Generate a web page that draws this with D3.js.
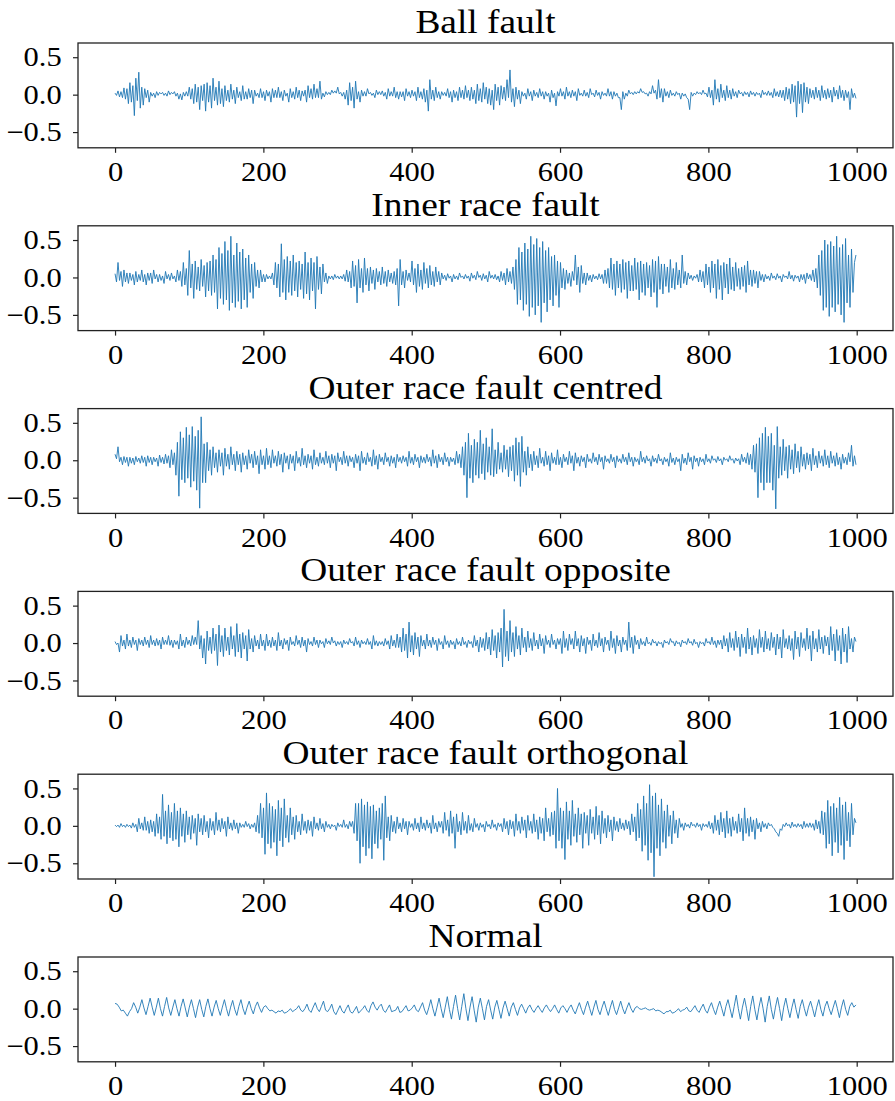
<!DOCTYPE html>
<html>
<head>
<meta charset="utf-8">
<script src="https://cdn.jsdelivr.net/npm/d3@7"></script>
<style>
  body { margin: 0; background: #fff; }
  text { font-family: "Liberation Serif", "Times New Roman", serif; fill: #000; }
</style>
</head>
<body>
<div id="chart"></div>
<script>
// panel titles, top to bottom
var titles = ["Ball fault", "Inner race fault", "Outer race fault centred",
  "Outer race fault opposite", "Outer race fault orthogonal", "Normal"];

var xTicks = [0, 200, 400, 600, 800, 1000];
var yTicks = [-0.5, 0, 0.5];
var yTickLabels = ["\u22120.5", "0.0", "0.5"];
var sampleCount = 1000;

// signals, amplitude in hundredths,
// evenly spread over samples 0..999 (one line = 40 samples)
var ballFault = [
  2,-1,5,-3,4,-4,9,-6,8,-12,16,-10,12,-28,22,-8,30,-18,10,-14,
  8,-4,6,-10,3,-2,2,-4,4,-1,3,1,3,-1,2,-2,5,0,3,1,
  4,-2,2,-6,1,-7,3,-2,4,-2,10,-6,8,-12,14,-10,10,-20,12,-8,
  14,-22,16,-10,12,-18,22,-8,10,-14,18,-12,8,-16,12,-8,6,-10,14,-6,
  6,-12,10,-4,4,-8,12,-6,4,-6,8,-4,6,-12,6,-2,2,-4,8,-4,
  4,-8,6,-2,4,-10,8,-4,6,-4,10,-4,4,-8,6,-2,2,-10,8,-4,
  4,-6,10,-4,6,-8,5,-2,6,-10,12,-4,8,-6,14,-4,8,-4,18,-6,
  2,-3,4,0,3,0,6,2,5,2,10,1,3,-2,3,-6,6,-14,16,-8,
  10,-18,18,-6,4,-10,6,-2,4,-2,8,1,3,-1,2,-4,6,0,4,0,
  5,-2,3,-6,8,-2,4,-2,10,-4,4,-6,4,-3,4,-8,8,-2,4,-4,
  6,-2,4,-8,10,-4,4,-6,8,-10,6,-22,20,-6,6,-8,10,-4,4,-6,
  4,-1,3,-2,8,-4,4,-10,6,-4,4,-8,10,-4,6,-6,12,-4,6,-8,
  10,-6,6,-12,14,-8,8,-10,16,-6,10,-12,8,-14,6,-20,14,-8,10,-14,
  12,-6,10,-8,20,-4,33,-10,8,-16,10,-6,6,-12,4,-2,2,-6,8,-2,
  4,-8,6,-2,3,-4,8,-2,4,-6,4,-2,2,-10,6,-4,2,-15,4,-2,
  8,-2,4,-6,10,-2,4,-4,6,-2,4,-8,8,-1,2,-2,6,-2,3,-4,
  8,0,2,-3,6,-1,3,-6,4,-1,2,-2,8,-2,4,-6,4,-2,2,-4,
  -4,-20,4,-6,2,-2,6,1,3,0,4,1,4,2,8,3,4,1,2,-2,
  4,1,12,2,6,-6,20,-4,8,-10,8,-2,4,-4,6,-1,2,-2,4,0,
  2,-6,2,-2,1,-4,-6,-20,3,-2,2,0,4,1,3,0,6,1,2,-3,
  10,-4,6,-14,20,-6,8,-10,14,-4,6,-8,12,-4,6,-6,8,-2,4,-4,
  6,1,3,-2,4,0,3,-3,5,0,3,-2,3,0,2,-4,6,0,3,-1,
  5,-1,3,-4,8,-2,4,-3,6,-4,6,-8,10,-6,8,-12,14,-10,12,-30,
  18,-12,14,-24,16,-10,10,-12,8,-4,6,-6,10,-4,6,-8,12,-4,6,-6,
  8,-4,6,-10,10,-2,6,-6,12,-4,6,-8,6,-4,4,-20,8,-4,2,-5
];

var innerRace = [
  5,-6,20,-4,8,-12,10,-6,6,-8,6,-4,4,-10,8,-6,4,-4,10,-6,
  4,-10,6,-4,6,-8,10,-2,4,-6,4,-4,2,-8,8,-2,4,-4,6,-2,
  2,-6,10,-4,8,-12,20,-10,12,-24,36,-14,18,-28,22,-16,14,-18,24,-12,
  16,-26,20,-18,22,-24,30,-20,24,-42,40,-28,32,-36,48,-30,36,-44,55,-34,
  30,-40,46,-32,34,-42,38,-30,26,-40,30,-20,18,-28,20,-12,10,-14,10,-6,
  4,-6,4,-2,2,-2,6,-10,20,-14,18,-26,45,-20,24,-30,28,-20,22,-24,
  30,-18,20,-26,22,-16,18,-28,34,-22,20,-30,26,-18,20,-42,28,-16,14,-22,
  18,-6,6,-8,2,-2,2,-3,4,-1,2,-2,2,-2,4,-5,10,-6,8,-14,
  22,-12,16,-34,24,-14,12,-20,26,-10,12,-18,14,-8,10,-16,12,-6,8,-10,
  14,-8,8,-12,10,-6,6,-8,8,-10,12,-38,24,-10,8,-14,10,-4,6,-6,
  22,-10,12,-20,18,-12,10,-16,20,-8,12,-14,16,-10,8,-12,14,-6,8,-10,
  6,-2,3,-4,5,-1,2,-6,4,-2,2,-3,6,0,2,-2,4,-1,2,-5,
  6,-1,3,-3,8,0,3,-4,5,-2,3,-6,8,-1,3,-2,4,-3,2,-6,
  8,-4,6,-10,12,-6,8,-8,14,-16,24,-36,40,-30,34,-44,46,-36,38,-52,
  55,-40,44,-50,52,-38,40,-60,48,-34,36,-46,40,-30,28,-38,30,-24,22,-40,
  20,-14,12,-16,10,-8,6,-12,8,-4,30,-10,14,-20,16,-8,6,-10,6,-4,
  3,-6,4,-2,2,-3,5,-2,4,-8,10,-8,12,-14,26,-16,18,-24,22,-14,
  18,-20,24,-16,20,-28,22,-18,16,-18,26,-16,20,-30,22,-20,18,-24,20,-14,
  16,-26,24,-20,22,-40,28,-16,18,-22,18,-12,14,-20,24,-14,12,-16,20,-10,
  10,-14,30,-8,8,-10,6,-2,3,-4,2,-1,4,-6,10,-6,8,-14,18,-10,
  14,-20,22,-14,18,-28,24,-16,16,-30,20,-14,18,-22,26,-16,14,-18,20,-12,
  12,-16,14,-12,16,-20,22,-10,10,-12,10,-8,8,-14,8,-4,4,-6,4,-2,
  2,-4,6,-1,2,-3,5,-1,2,-6,4,0,2,-2,8,-2,3,-5,3,-1,
  2,-6,4,-3,4,-8,6,-2,4,-4,10,-6,12,-14,30,-24,36,-44,50,-40,
  44,-52,48,-40,42,-46,55,-36,40,-50,44,-60,52,-34,30,-40,38,-20,20,30
];

var outerCentred = [
  8,2,18,-2,4,-6,5,-3,4,-8,4,-4,3,-6,5,-2,3,-4,6,-3,
  4,-8,6,-3,4,-6,4,-2,3,-8,7,-3,4,-5,8,-4,6,-10,14,-6,
  10,-20,24,-48,38,-26,30,-30,44,-24,34,-36,45,-28,32,-40,40,-64,58,-30,
  22,-30,24,-14,14,-20,18,-10,10,-16,14,-8,10,-20,16,-8,8,-12,18,-6,
  8,-14,12,-6,8,-16,10,-6,6,-12,14,-4,8,-10,12,-6,6,-18,14,-6,
  6,-12,16,-6,6,-10,14,-4,6,-8,12,-6,8,-16,10,-4,6,-12,8,-4,
  6,-14,12,-4,4,-8,16,-6,6,-10,8,-4,6,-12,14,-6,4,-8,10,-4,
  4,-6,12,-4,6,-10,8,-4,6,-14,10,-2,4,-6,12,-4,6,-8,6,-2,
  4,-10,8,-4,6,-14,12,-4,4,-6,10,-2,4,-8,14,-6,6,-12,8,-2,
  4,-6,10,-2,4,-8,6,-4,4,-10,8,-2,4,-4,6,-2,4,-8,12,-4,
  4,-6,8,-2,4,-10,6,-3,4,-4,8,-2,4,-8,14,-4,6,-10,8,-2,
  4,-6,10,-2,4,-8,4,-2,3,-6,12,-4,8,-10,18,-20,24,-50,36,-24,
  20,-30,28,-20,24,-24,40,-18,22,-26,30,-16,18,-20,42,-22,14,-18,24,-12,
  10,-16,20,-12,14,-22,18,-14,20,-28,30,-20,24,-35,32,-16,12,-20,18,-10,
  8,-14,12,-6,6,-10,16,-4,4,-8,12,-6,6,-14,10,-4,4,-6,14,-6,
  4,-10,8,-2,4,-6,12,-4,6,-14,10,-4,4,-8,6,-2,4,-10,8,-2,
  2,-4,10,-2,4,-6,8,-2,4,-12,6,-2,2,-4,8,-2,4,-10,6,-2,
  2,-4,8,-2,4,-6,10,-2,4,-8,4,-2,2,-6,12,-2,4,-4,6,-1,
  2,-8,6,-2,3,-4,8,-1,2,-6,4,-2,2,-8,10,-3,3,-6,4,-2,
  2,-14,8,-4,3,-6,10,-2,4,-12,6,-2,3,-8,4,-2,2,-6,8,-2,
  2,-4,6,0,2,-3,5,-1,2,-6,4,0,2,-2,6,0,2,-4,3,-1,
  2,-6,8,-2,4,-4,10,-6,8,-12,20,-16,22,-50,30,-30,36,-40,44,-30,
  32,-30,36,-40,20,-65,45,-24,18,-20,28,-14,18,-24,20,-12,14,-18,22,-10,
  12,-16,18,-8,8,-12,10,-6,8,-14,16,-6,6,-10,12,-4,6,-8,14,-6,
  6,-10,12,-4,6,-8,10,-6,4,-12,8,-4,4,-6,10,-2,20,-8,6,-6
];

var outerOpposite = [
  2,-2,0,-12,10,-4,4,-8,12,-4,4,-6,8,-2,4,-10,6,-2,4,-4,
  8,-2,4,-6,10,-2,4,-4,6,-3,4,-8,8,-2,4,-2,10,-3,4,-6,
  4,-2,3,-8,12,-4,4,-6,8,-2,4,-4,10,-2,8,-2,30,-8,10,-20,
  6,-28,16,-10,8,-14,20,-10,12,-30,24,-12,10,-18,20,-10,8,-16,22,-8,
  10,-18,26,-12,12,-20,14,-8,10,-24,18,-8,6,-12,10,-4,4,-8,12,-4,
  4,-10,12,-4,4,-6,8,-4,4,-10,14,-4,4,-8,6,-2,4,-10,8,-2,
  2,-4,10,-2,4,-6,8,-4,4,-12,6,-2,2,-4,8,-2,4,-6,4,-1,
  2,-6,6,-1,3,-2,8,0,3,-4,2,-2,2,-6,4,-1,2,-2,6,0,
  2,-4,8,-2,3,-6,4,-1,2,-2,6,-2,2,-8,10,-3,3,-4,2,-2,
  2,-4,6,-2,3,-8,10,-4,4,-6,12,-6,8,-12,20,-10,12,-20,28,-12,
  10,-16,14,-8,8,-18,10,-4,4,-8,12,-4,4,-6,8,-2,4,-10,6,-2,
  2,-8,10,-2,3,-6,4,-2,2,-8,6,-2,2,-4,8,-2,2,-6,4,-1,
  2,-6,10,-4,4,-12,8,-6,6,-10,14,-8,8,-16,18,-10,10,-20,14,-12,
  20,-32,45,-18,16,-24,30,-12,14,-18,22,-8,10,-16,20,-6,8,-12,16,-6,
  6,-10,14,-4,4,-8,12,-4,6,-14,10,-2,4,-6,12,-2,4,-8,6,-2,
  6,-14,16,-6,6,-10,12,-2,6,-8,16,-4,6,-12,10,-4,6,-14,8,-2,
  4,-10,12,-4,4,-6,14,-4,6,-12,8,-2,4,-10,16,-6,6,-14,10,-4,
  4,-12,8,-2,4,-10,28,-6,8,-14,10,-2,4,-8,6,-2,2,-4,8,-1,
  1,-3,5,0,2,-4,2,-1,1,-6,4,0,2,-2,6,1,2,-4,3,-1,
  1,-5,4,0,2,-2,6,0,2,-3,5,-1,1,-6,2,-1,1,-4,6,0,
  2,-2,8,-2,3,-6,4,-2,4,-8,10,-4,6,-12,14,-6,6,-10,16,-6,
  8,-18,12,-6,8,-14,20,-8,8,-16,10,-6,6,-14,18,-6,8,-12,16,-8,
  6,-10,14,-6,8,-16,12,-8,8,-20,18,-6,6,-8,10,-10,6,-22,16,-8,
  8,-18,14,-6,6,-10,20,-8,10,-24,16,-8,6,-12,18,-8,8,-14,10,-4,
  8,-16,22,-10,12,-24,18,-10,10,-28,20,-12,12,-26,22,-8,6,-12,8,2
];

var outerOrthogonal = [
  1,-1,1,-2,3,-1,1,-2,2,-1,1,-3,4,-2,2,-8,10,-4,4,-6,
  12,-6,6,-10,8,-8,6,-14,16,-10,12,-18,42,-14,20,-24,28,-16,18,-20,
  30,-18,20,-28,24,-14,16,-22,20,-12,12,-18,14,-10,10,-26,16,-8,10,-12,
  14,-8,6,-16,10,-6,6,-12,18,-6,8,-8,10,-4,6,-14,12,-4,4,-6,
  8,-4,4,-10,4,-2,2,-2,6,-1,3,-4,2,-2,4,-8,14,-10,30,-16,
  24,-38,44,-24,30,-30,26,-22,22,-40,34,-20,24,-28,36,-16,14,-22,24,-12,
  12,-18,14,-8,6,-12,16,-6,6,-10,8,-6,6,-14,12,-4,4,-6,10,-4,
  3,-8,6,-2,2,-4,2,-1,1,-6,4,-1,2,-2,8,-2,2,-4,6,-1,
  6,-10,30,-20,30,-50,36,-28,28,-40,32,-30,26,-44,28,-24,20,-30,24,-18,
  30,-46,40,-16,12,-20,14,-8,6,-10,12,-4,4,-8,10,-4,6,-12,6,-2,
  3,-6,10,-4,4,-8,12,-4,4,-6,8,-3,4,-10,14,-4,4,-8,6,-2,
  6,-10,18,-6,8,-14,20,-10,12,-30,16,-8,6,-12,18,-6,6,-10,14,-6,
  3,-8,10,-2,3,-6,4,-2,2,-8,6,-1,2,-4,8,-2,2,-6,4,-1,
  3,-8,10,-4,6,-12,8,-4,6,-14,16,-6,6,-10,12,-6,8,-16,14,-6,
  6,-10,16,-8,8,-18,12,-10,10,-20,24,-8,10,-14,18,-12,20,-30,50,-20,
  24,-30,20,-45,32,-18,20,-26,34,-14,16,-22,24,-12,16,-30,18,-10,14,-26,
  22,-10,12,-18,26,-12,14,-24,20,-10,10,-16,14,-8,8,-20,12,-6,6,-8,
  10,-4,4,-6,8,-4,6,-12,16,-8,12,-20,30,-16,22,-34,40,-26,30,-46,
  55,-36,40,-68,44,-30,28,-40,36,-22,20,-30,28,-14,14,-24,20,-10,8,-16,
  10,-2,3,-6,4,-1,2,-3,5,0,2,-2,4,-1,2,-6,3,-1,2,-2,
  6,-4,4,-10,14,-6,8,-12,18,-8,10,-16,20,-10,10,-14,12,-6,6,-10,
  16,-8,10,-20,24,-10,10,-14,12,-8,8,-18,10,-4,4,-8,6,-2,3,-4,
  4,0,2,-2,-4,-8,-10,-14,-4,-6,2,-1,4,0,2,-3,5,-1,2,-2,
  3,-1,2,-4,6,-2,3,-2,4,-2,3,-6,8,-4,6,-10,20,-12,18,-30,
  34,-24,26,-40,30,-22,24,-36,38,-26,28,-45,32,-20,18,-28,30,-12,10,4
];

var normal = [
  7,6,2,-3, -2,-6,-10,-4, 0,8,2,-6, 2,12,1,-8, 3,14,2,-9,
  2,14,0,-10, 3,15,1,-9, 2,12,0,-10, 3,13,1,-11, 2,12,0,-12,
  2,12,-1,-11, 3,13,0,-10, 2,11,0,-9, 2,12,0,-10, 2,11,-1,-9,
  3,12,0,-8, 2,10,0,-7, 3,9,1,-5, 2,4,0,-3, -2,-4,-6,-3,
  -4,-2,-6,-5, -3,0,-4,-2, 0,4,-2,-4, 0,6,-2,-5, 2,8,0,-4,
  3,10,-2,-4, 0,6,-4,-8, -2,4,-3,-6, 0,5,-4,-6, -2,3,-6,-3,
  0,4,-2,-5, 4,9,2,-2, 3,6,-2,-5, 0,5,-4,-3, -2,3,-5,-4,
  0,4,-3,-2, 1,5,-2,-4, 2,8,-2,-8, 1,12,0,-10, 2,14,0,-12,
  2,16,-1,-14, 3,18,0,-15, 3,20,0,-16, 2,16,-2,-18, 2,14,0,-15,
  3,12,-2,-14, 2,11,-1,-13, 1,10,0,-10, 2,8,-1,-9, 1,6,0,-6,
  1,5,-1,-5, 0,4,-1,-5, 1,5,0,-4, 0,5,-1,-6, 1,4,0,-5,
  1,5,-2,-7, 1,8,-1,-8, 2,10,0,-9, 2,11,-1,-8, 2,10,0,-9,
  2,11,-1,-8, 1,10,0,-7, 1,8,0,-5, 1,3,0,-1, 0,1,-1,-2,
  -1,0,-3,-2, -3,-5,-7,-4, -4,-2,-6,-5, -3,0,-4,-2, -1,2,-3,-4,
  0,4,-2,-5, 1,6,-2,-6, 2,8,-1,-8, 2,10,0,-10, 3,12,0,-12,
  3,18,0,-14, 2,14,0,-16, 3,17,-1,-15, 2,15,0,-18, 3,17,-1,-14,
  2,15,0,-16, 2,14,0,-12, 2,13,-1,-13, 3,12,0,-10, 2,10,0,-11,
  2,12,-1,-10, 3,10,0,-8, 2,11,0,-12, 2,12,-1,-9, 3,8,2,5
];

var signals = [ballFault, innerRace, outerCentred, outerOpposite, outerOrthogonal, normal];

// svg container
var svgWidth = 895;
var svgHeight = 1101;

// panel layout
var panelLeft = 78;
var panelRight = 893;
var firstTop = 43;
var panelStep = 182.8;
var panelHeight = 104.8;

// the source figure is a little wider than tall, so glyphs are stretched sideways
var tickStretch = 1.13;
var titleStretch = 1.1;

var svg = d3.select("#chart").append("svg")
  .attr("width", svgWidth)
  .attr("height", svgHeight)
  .style("display", "block");

svg.append("rect")
  .attr("width", svgWidth)
  .attr("height", svgHeight)
  .attr("fill", "#fff");

// matplotlib style 5% margins around samples 0..999
var xScale = d3.scaleLinear()
  .domain([-0.05 * (sampleCount - 1), 1.05 * (sampleCount - 1)])
  .range([panelLeft, panelRight]);

signals.forEach(function(values, i) {
  var top = firstTop + i * panelStep;
  var bottom = top + panelHeight;

  var yScale = d3.scaleLinear()
    .domain([-0.71, 0.69])
    .range([bottom, top]);

  var step = (sampleCount - 1) / (values.length - 1);

  var panel = svg.append("g");

  panel.append("clipPath")
    .attr("id", "clip" + i)
    .append("rect")
    .attr("x", panelLeft)
    .attr("y", top)
    .attr("width", panelRight - panelLeft)
    .attr("height", panelHeight);

  var line = d3.line()
    .x((d, j) => xScale(j * step))
    .y(d => yScale(d / 100));

  panel.append("path")
    .datum(values)
    .attr("clip-path", "url(#clip" + i + ")")
    .attr("fill", "none")
    .attr("stroke", "#1f77b4")
    .attr("stroke-width", 0.9)
    .attr("stroke-linejoin", "round")
    .attr("d", line);

  // axes
  var xAxis = d3.axisBottom(xScale)
    .tickValues(xTicks)
    .tickFormat(d3.format("d"))
    .tickSize(5)
    .tickPadding(9)
    .tickSizeOuter(0);

  var yAxis = d3.axisLeft(yScale)
    .tickValues(yTicks)
    .tickFormat((d, k) => yTickLabels[k])
    .tickSize(5)
    .tickPadding(9.4)
    .tickSizeOuter(0);

  var gx = panel.append("g")
    .attr("transform", `translate(0, ${bottom})`)
    .call(xAxis);

  var gy = panel.append("g")
    .attr("transform", `translate(${panelLeft}, 0)`)
    .call(yAxis);

  [gx, gy].forEach(function(g) {
    g.attr("font-family", null);
    g.select(".domain").remove();
    g.selectAll(".tick line").attr("stroke", "#222").attr("stroke-width", 1.2);
    g.selectAll(".tick text")
      .attr("font-size", "27px")
      .attr("fill", "#000")
      .attr("transform", `scale(${tickStretch}, 1)`);
  });

  // frame
  panel.append("rect")
    .attr("x", panelLeft)
    .attr("y", top)
    .attr("width", panelRight - panelLeft)
    .attr("height", panelHeight)
    .attr("fill", "none")
    .attr("stroke", "#222")
    .attr("stroke-width", 1.3);

  // title
  var cx = (panelLeft + panelRight) / 2;
  panel.append("text")
    .attr("transform", `translate(${cx}, ${top - 10}) scale(${titleStretch}, 1)`)
    .attr("text-anchor", "middle")
    .attr("font-size", "34px")
    .text(titles[i]);
});
</script>
</body>
</html>
